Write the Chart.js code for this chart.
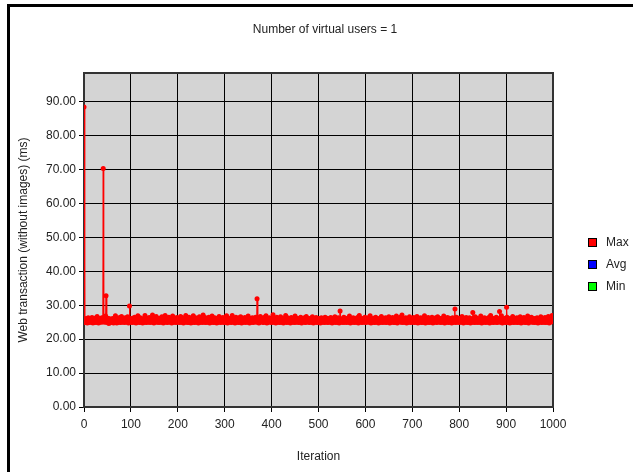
<!DOCTYPE html>
<html>
<head>
<meta charset="utf-8">
<script src="https://cdn.jsdelivr.net/npm/chart.js@4/dist/chart.umd.min.js"></script>
<style>
  html, body { margin: 0; padding: 0; background: #fff; }
  #wrap { position: relative; width: 633px; height: 472px; overflow: hidden; }
  #frame { position: absolute; left: 7px; top: 4px; right: -10px; bottom: -10px;
           border-left: 3px solid #000; border-top: 3px solid #000; pointer-events: none; }
</style>
</head>
<body>
<div id="wrap">
  <canvas id="loadChart"></canvas>
  <div id="frame"></div>
</div>
<script>
// Chart text
const chartTitle = "Number of virtual users = 1";
const xTitle = "Iteration";
const yTitle = "Web transaction (without images) (ms)";
const seriesNames = ["Max", "Avg", "Min"];
const seriesColors = ["#ff0000", "#0000ff", "#00ff00"];

// Response time per iteration (ms), iterations 0..999
const responseMs = [
  88.5, 25.1, 24.9, 25.6, 25.3, 26.1, 25.0, 24.8, 25.4, 26.3, 25.2, 25.7, 24.9, 25.5, 26.0, 25.1, 25.3, 26.4, 25.0, 24.8,
  25.6, 25.2, 26.2, 25.4, 24.9, 25.8, 25.1, 25.3, 26.7, 25.0, 25.5, 24.8, 25.9, 25.2, 26.1, 25.4, 25.0, 25.7, 26.3, 25.1,
  25.3, 70.3, 25.6, 26.5, 25.0, 25.4, 26.8, 32.8, 25.2, 24.9, 25.7, 26.2, 25.1, 24.6, 25.5, 26.0, 25.3, 24.9, 25.8, 25.0,
  25.4, 26.1, 25.2, 24.8, 25.6, 25.9, 25.1, 26.9, 25.3, 25.0, 24.8, 25.7, 26.2, 25.4, 25.0, 25.5, 26.4, 25.1, 24.9, 25.6,
  26.7, 25.2, 25.0, 25.8, 25.3, 26.0, 24.9, 25.5, 26.3, 25.1, 25.4, 25.9, 25.0, 26.6, 25.2, 24.8, 25.6, 29.8, 25.3, 26.1,
  25.0, 25.7, 25.2, 24.9, 26.2, 25.4, 25.1, 25.8, 26.5, 25.0, 25.3, 24.8, 25.6, 26.0, 25.2, 26.9, 25.5, 25.1, 24.9, 25.7,
  26.3, 25.0, 25.4, 25.9, 25.2, 24.8, 25.6, 26.1, 25.3, 25.0, 27.0, 25.5, 25.1, 24.9, 25.8, 26.2, 25.4, 25.0, 25.7, 26.4,
  25.2, 24.9, 25.5, 26.0, 25.1, 25.3, 27.1, 25.6, 25.0, 24.8, 25.9, 26.3, 25.2, 25.4, 26.7, 25.1, 25.0, 25.7, 26.1, 25.3,
  24.9, 25.6, 26.2, 25.0, 25.4, 25.8, 26.6, 25.2, 25.1, 24.8, 25.5, 26.0, 25.3, 27.0, 25.0, 25.7, 26.3, 25.1, 24.9, 25.4,
  25.9, 26.5, 25.2, 25.0, 25.6, 26.1, 25.3, 24.8, 25.5, 26.8, 25.1, 25.4, 25.0, 25.8, 26.2, 25.2, 24.9, 25.7, 26.4, 25.0,
  25.3, 25.6, 26.0, 25.1, 24.9, 25.5, 26.7, 25.2, 25.0, 25.9, 26.3, 25.4, 24.8, 25.6, 26.1, 25.0, 25.3, 27.0, 25.1, 25.7,
  26.2, 25.0, 24.9, 25.4, 26.5, 25.2, 25.8, 25.1, 24.8, 25.6, 26.0, 25.3, 25.0, 26.9, 25.5, 25.1, 24.9, 25.7, 26.3, 25.2,
  25.0, 25.4, 26.1, 25.6, 24.8, 25.3, 26.6, 25.1, 25.0, 25.9, 26.2, 25.4, 24.9, 25.5, 27.1, 25.2, 25.0, 25.8, 26.4, 25.1,
  24.9, 25.6, 26.0, 25.3, 25.0, 25.7, 26.5, 25.2, 24.8, 25.4, 26.1, 25.0, 25.9, 26.8, 25.1, 25.3, 24.9, 25.6, 26.3, 25.0,
  25.5, 26.2, 25.1, 24.8, 25.4, 26.0, 25.2, 25.0, 26.7, 25.7, 25.3, 24.9, 25.6, 26.1, 25.0, 25.8, 26.4, 25.2, 25.1, 24.9,
  25.7, 26.3, 25.0, 25.4, 26.9, 25.2, 24.8, 25.5, 26.0, 25.1, 25.3, 25.9, 26.2, 25.0, 24.9, 25.6, 27.0, 25.3, 25.1, 25.8,
  26.1, 25.0, 24.8, 25.4, 26.5, 25.2, 25.7, 26.0, 25.1, 24.9, 25.5, 26.3, 25.0, 25.3, 26.6, 25.2, 24.8, 25.9, 26.2, 25.1,
  25.4, 25.0, 25.7, 26.4, 25.3, 24.9, 25.6, 26.0, 25.1, 25.2, 26.8, 25.5, 25.0, 24.8, 25.8, 26.1, 25.3, 25.0, 25.6, 26.3,
  25.1, 24.9, 25.4, 26.0, 25.2, 25.7, 26.5, 25.0, 25.3, 31.9, 25.1, 25.6, 26.2, 24.8, 25.0, 25.5, 26.7, 25.2, 25.4, 25.9,
  26.1, 25.0, 24.9, 25.6, 26.4, 25.1, 25.3, 25.8, 26.9, 25.0, 24.8, 25.5, 26.0, 25.2, 25.4, 26.3, 25.1, 25.0, 25.7, 26.2,
  25.3, 24.9, 25.6, 27.2, 25.0, 25.4, 25.9, 26.1, 25.2, 24.8, 25.5, 26.5, 25.1, 25.3, 25.8, 26.0, 25.0, 24.9, 25.6, 26.6,
  25.2, 25.0, 25.4, 26.2, 25.7, 24.8, 25.3, 26.0, 25.1, 25.5, 27.0, 25.2, 24.9, 25.6, 26.3, 25.0, 25.4, 25.9, 26.1, 25.1,
  24.8, 25.5, 26.4, 25.2, 25.0, 25.7, 26.0, 25.3, 24.9, 25.6, 26.8, 25.1, 25.0, 25.4, 26.2, 25.8, 25.2, 24.9, 25.5, 26.1,
  25.0, 25.3, 26.5, 25.1, 24.8, 25.6, 26.0, 25.4, 25.2, 25.9, 26.3, 25.0, 24.9, 25.5, 26.7, 25.1, 25.3, 25.8, 26.1, 25.0,
  25.4, 24.9, 25.6, 26.2, 25.2, 25.0, 25.7, 26.6, 25.1, 24.8, 25.5, 26.0, 25.3, 25.0, 25.9, 26.4, 25.2, 24.9, 25.6, 26.1,
  25.0, 25.3, 26.0, 25.5, 24.8, 25.1, 26.3, 25.4, 25.0, 25.7, 26.1, 25.2, 24.9, 25.6, 26.5, 25.0, 25.3, 25.8, 26.2, 25.1,
  24.9, 25.5, 26.0, 25.2, 25.0, 25.4, 26.4, 25.7, 25.1, 24.8, 25.6, 26.2, 25.3, 25.0, 25.9, 26.6, 25.2, 24.9, 25.5, 26.1,
  25.0, 25.4, 26.3, 25.1, 24.8, 25.6, 28.3, 25.2, 25.0, 25.7, 26.0, 25.3, 24.9, 25.5, 26.5, 25.1, 25.0, 25.8, 26.2, 25.4,
  24.9, 25.2, 26.0, 25.6, 25.0, 25.3, 26.8, 25.1, 24.8, 25.7, 26.1, 25.4, 25.0, 25.5, 26.3, 25.2, 24.9, 25.9, 26.0, 25.1,
  25.3, 25.0, 25.6, 26.4, 25.2, 24.8, 25.5, 27.0, 25.1, 25.4, 25.8, 26.2, 25.0, 24.9, 25.6, 26.0, 25.3, 25.1, 25.7, 26.5,
  25.0, 24.9, 25.4, 26.1, 25.2, 25.6, 26.3, 25.1, 25.0, 25.8, 26.9, 25.3, 24.8, 25.5, 26.0, 25.2, 25.0, 25.7, 26.2, 25.1,
  24.9, 25.4, 26.5, 25.0, 25.3, 25.9, 26.1, 25.2, 24.8, 25.6, 26.0, 25.1, 25.0, 25.5, 26.7, 25.3, 24.9, 25.7, 26.2, 25.0,
  25.4, 25.1, 25.8, 26.3, 25.0, 24.9, 25.6, 26.0, 25.2, 25.3, 26.6, 25.1, 24.8, 25.5, 26.1, 25.0, 25.4, 25.9, 26.4, 25.2,
  25.0, 24.9, 25.7, 26.2, 25.1, 25.3, 26.8, 25.0, 24.8, 25.6, 26.0, 25.4, 25.2, 25.5, 26.5, 25.1, 25.0, 25.8, 27.1, 25.3,
  24.9, 25.6, 26.1, 25.0, 25.2, 25.7, 26.3, 25.1, 24.8, 25.4, 26.0, 25.5, 25.0, 25.9, 26.6, 25.2, 24.9, 25.6, 26.2, 25.0,
  25.3, 25.1, 25.8, 26.4, 25.0, 24.9, 25.5, 26.1, 25.2, 25.4, 26.7, 25.0, 24.8, 25.6, 26.0, 25.3, 25.1, 25.7, 26.3, 25.0,
  24.9, 25.4, 26.2, 25.1, 25.0, 25.6, 26.9, 25.2, 24.8, 25.5, 26.0, 25.3, 25.0, 25.8, 26.4, 25.1, 24.9, 25.7, 26.1, 25.2,
  25.0, 25.3, 26.5, 25.1, 24.8, 25.6, 26.0, 25.4, 25.2, 25.9, 26.3, 25.0, 24.9, 25.5, 26.6, 25.1, 25.3, 25.8, 26.2, 25.0,
  25.4, 24.9, 25.6, 26.1, 25.2, 25.0, 25.7, 26.8, 25.1, 24.8, 25.5, 26.0, 25.3, 25.0, 25.9, 26.4, 25.2, 24.9, 25.6, 26.2,
  25.0, 25.3, 26.0, 25.5, 24.8, 25.1, 26.3, 25.4, 25.0, 25.7, 26.1, 28.9, 24.9, 25.6, 26.5, 25.0, 25.3, 25.8, 26.2, 25.1,
  24.9, 25.5, 26.0, 25.2, 25.0, 25.4, 26.7, 25.7, 25.1, 24.8, 25.6, 26.2, 25.3, 25.0, 25.9, 26.4, 25.2, 24.9, 25.5, 26.1,
  25.0, 25.4, 26.3, 25.1, 24.8, 25.6, 26.0, 25.2, 25.0, 27.9, 26.1, 25.3, 24.9, 25.5, 26.6, 25.1, 25.0, 25.8, 26.2, 25.4,
  24.9, 25.2, 26.0, 25.6, 25.0, 25.3, 26.8, 25.1, 24.8, 25.7, 26.1, 25.4, 25.0, 25.5, 26.3, 25.2, 24.9, 25.9, 26.0, 25.1,
  25.3, 25.0, 25.6, 26.4, 25.2, 24.8, 25.5, 27.0, 25.1, 25.4, 25.8, 26.2, 25.0, 24.9, 25.6, 26.0, 25.3, 25.1, 25.7, 26.5,
  25.0, 24.9, 25.4, 26.1, 25.2, 25.6, 28.2, 25.1, 25.0, 25.8, 26.9, 25.3, 24.8, 25.5, 26.0, 25.2, 25.0, 25.7, 26.2, 25.1,
  24.9, 29.4, 26.5, 25.0, 25.3, 25.9, 26.1, 25.2, 24.8, 25.6, 26.0, 25.1, 25.0, 25.5, 26.7, 25.3, 24.9, 25.7, 26.2, 25.0,
  25.4, 25.1, 25.8, 26.3, 25.0, 24.9, 25.6, 26.0, 25.2, 25.3, 26.6, 25.1, 24.8, 25.5, 26.1, 25.0, 25.4, 25.9, 26.4, 25.2,
  25.0, 24.9, 25.7, 26.2, 25.1, 25.3, 26.8, 25.0, 24.8, 25.6, 26.0, 25.4, 25.2, 25.5, 26.5, 25.1, 25.0, 25.8, 26.1, 25.3,
  24.9, 25.6, 26.1, 25.0, 25.2, 25.7, 26.3, 25.1, 24.8, 25.4, 26.0, 25.5, 25.0, 25.9, 26.6, 25.2, 24.9, 25.6, 26.2, 25.0,
  25.3, 25.1, 25.8, 26.4, 25.0, 24.9, 25.5, 26.1, 25.2, 25.4, 26.7, 25.0, 24.8, 25.6, 26.0, 25.3, 25.1, 25.7, 27.0, 25.2
];

// Axis ranges
const xMin = 0, xMax = 1000, xStep = 100;
const yMin = 0, yMax = 98.5, yStep = 10;

// one user per iteration, so max, avg and min are the same value
const points = responseMs.map((v, i) => ({ x: i, y: v }));

const font = { family: "Arial, 'Liberation Sans', sans-serif", size: 12 };
const textColor = "#222";

// gray plot background plus dark frame round it
const plotFrame = {
  id: "plotFrame",
  beforeDraw(chart) {
    const { ctx, chartArea: a } = chart;
    ctx.save();
    ctx.fillStyle = "#d4d4d4";
    ctx.fillRect(a.left, a.top, a.right - a.left, a.bottom - a.top);
    ctx.restore();
  },
  beforeDatasetsDraw(chart) {
    const { ctx, chartArea: a } = chart;
    ctx.save();
    ctx.strokeStyle = "#333";
    ctx.lineWidth = 2;
    ctx.strokeRect(a.left, a.top, a.right - a.left, a.bottom - a.top);
    ctx.restore();
  }
};

// title over the page centre and legend on the right
const sideText = {
  id: "sideText",
  afterDraw(chart) {
    const { ctx } = chart;
    ctx.save();
    ctx.font = font.size + "px " + font.family;
    ctx.textBaseline = "middle";
    ctx.textAlign = "center";
    ctx.fillStyle = textColor;
    ctx.fillText(chartTitle, 325, 30);
    ctx.textAlign = "left";
    chart.data.datasets.forEach((ds, i) => {
      const cy = 242 + i * 22;
      ctx.fillStyle = ds.borderColor;
      ctx.fillRect(588, cy - 4, 9, 9);
      ctx.strokeStyle = "#000";
      ctx.lineWidth = 1;
      ctx.strokeRect(588.5, cy - 3.5, 8, 8);
      ctx.fillStyle = textColor;
      ctx.fillText(ds.label, 606, cy + 1);
    });
    ctx.restore();
  }
};

window.addEventListener("DOMContentLoaded", () => {
  const canvas = document.getElementById("loadChart");
  canvas.width = 633; canvas.height = 472;

  // Avg and Min sit exactly under Max, so only Max is painted
  const datasets = seriesNames.map((name, i) => ({
    label: name,
    data: points,
    hidden: i > 0,
    borderColor: seriesColors[i],
    backgroundColor: seriesColors[i],
    borderWidth: 1,
    pointRadius: 2.5,
    pointBorderWidth: 0,
    pointBackgroundColor: seriesColors[i]
  }));

  new Chart(canvas, {
    type: "line",
    data: { datasets },
    options: {
      responsive: false,
      animation: false,
      devicePixelRatio: 1,
      layout: { padding: { left: 0, right: 80, top: 73, bottom: 0 } },
      plugins: {
        legend: { display: false },
        tooltip: { enabled: false },
        title: { display: false }
      },
      scales: {
        x: {
          type: "linear",
          min: xMin, max: xMax,
          border: { display: false },
          grid: { color: "#000", lineWidth: 1, drawTicks: true, tickLength: 5, tickColor: "#000" },
          ticks: { stepSize: xStep, color: textColor, font, padding: 5, maxRotation: 0, includeBounds: false,
                   callback: v => String(v) },
          title: { display: true, text: xTitle, color: textColor, font, padding: { top: 0, bottom: 7.8 } },
          afterFit(scale) { scale.height = 65; }
        },
        y: {
          type: "linear",
          min: yMin, max: yMax,
          border: { display: false },
          grid: { color: "#000", lineWidth: 1, drawTicks: true, tickLength: 5, tickColor: "#000" },
          ticks: {
            stepSize: yStep, color: textColor, font, padding: 3, includeBounds: false,
            callback: v => v.toFixed(2)
          },
          title: { display: true, text: yTitle, color: textColor, font, padding: { top: 16.8, bottom: 0 } },
          afterFit(scale) { scale.width = 84; }
        }
      }
    },
    plugins: [plotFrame, sideText]
  });
});
</script>
</body>
</html>
